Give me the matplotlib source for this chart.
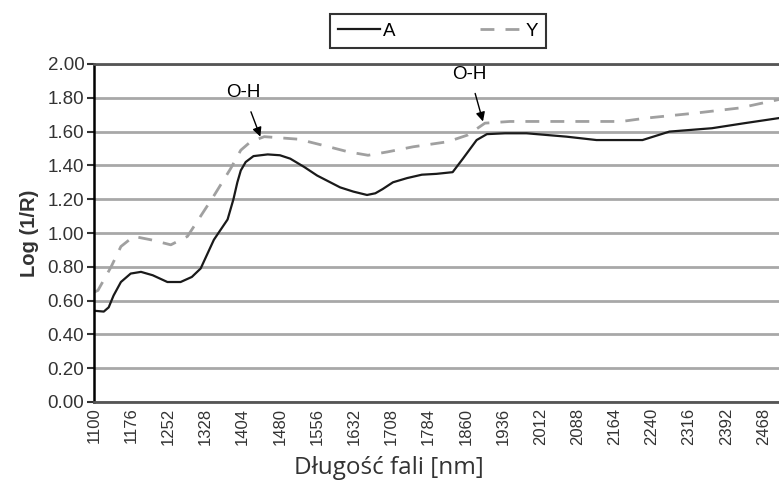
import numpy as np
import matplotlib
matplotlib.use('Agg')
import matplotlib.pyplot as plt

a_x = [1100, 1120, 1130, 1140, 1155, 1175, 1196, 1220, 1250, 1277, 1300, 1318, 1345, 1373, 1385, 1393,
       1400, 1410, 1426, 1455, 1480, 1501, 1530, 1556, 1603, 1630, 1658, 1675, 1690, 1711, 1740, 1770,
       1800, 1833, 1854, 1882, 1903, 1940, 1984, 2066, 2127, 2221, 2276, 2363, 2430, 2500]
a_y = [0.54, 0.535, 0.56, 0.63, 0.71, 0.76, 0.77, 0.75, 0.71, 0.71, 0.74, 0.79, 0.96, 1.08, 1.20, 1.30,
       1.37, 1.42, 1.455, 1.465, 1.46, 1.44, 1.39, 1.34, 1.27, 1.245, 1.225, 1.235, 1.26, 1.30, 1.325, 1.345,
       1.35, 1.36, 1.44, 1.55, 1.585, 1.59, 1.59, 1.57, 1.55, 1.55, 1.60, 1.62, 1.65, 1.68]

y_x = [1100, 1108, 1135, 1155, 1181, 1216, 1257, 1291, 1318, 1345, 1379, 1400, 1420, 1448, 1518, 1580,
       1620, 1660, 1700, 1752, 1823, 1864, 1899, 1950, 2025, 2178, 2229, 2331, 2420, 2500]
y_y = [0.65, 0.66, 0.80, 0.92, 0.98, 0.96, 0.93, 0.98, 1.10, 1.22, 1.38, 1.49, 1.54, 1.57, 1.555, 1.51,
       1.48, 1.46, 1.48, 1.51, 1.54, 1.58, 1.65, 1.66, 1.66, 1.66, 1.68, 1.71, 1.74, 1.79]

x_ticks = list(range(1100, 2469, 76))
y_ticks = [0.0, 0.2, 0.4, 0.6, 0.8, 1.0, 1.2, 1.4, 1.6, 1.8, 2.0]

plt.rcParams['font.family'] = ['Liberation Sans', 'DejaVu Sans']

fig = plt.figure(figsize=(7.79, 4.99), dpi=100)
ax = fig.add_axes([94/779, 1 - 402/499, 1 - 94/779, (402 - 64)/499])

for t in y_ticks:
    ax.axhline(t, color='#a8a8a8', lw=2, zorder=0)

ax.plot(a_x, a_y, color='#1a1a1a', lw=1.6, label='A')
ax.plot(y_x, y_y, color='#a0a0a0', lw=2, dashes=(5, 4), label='Y')

ax.set_xlim(1100, 2500)
ax.set_ylim(0, 2.0)
ax.set_xticks(x_ticks)
ax.set_xticklabels([str(v) for v in x_ticks], rotation=90, fontsize=12, color='#333333')
ax.set_yticks(y_ticks)
ax.set_yticklabels(['%.2f' % v for v in y_ticks], fontsize=13.5, color='#333333')
ax.tick_params(axis='x', length=0, pad=4)
ax.tick_params(axis='y', length=5, width=1.5, color='#333333', pad=2)

ax.spines['right'].set_visible(False)
ax.spines['top'].set_color('#555555')
ax.spines['top'].set_linewidth(2)
ax.spines['left'].set_linewidth(1.8)
ax.spines['bottom'].set_color('#555555')
ax.spines['bottom'].set_linewidth(2)

ax.set_ylabel('Log (1/R)', fontsize=14.5, fontweight='bold', color='#333333', labelpad=6)
fig.text(389/779, 1 - 468/499, 'Długość fali [nm]', fontsize=17.5, family='Open Sans',
         color='#333333', ha='center', va='center')

ax.annotate('O-H', xy=(1440, 1.57), xytext=(1406, 1.83), fontsize=13.5, ha='center', va='center',
            arrowprops=dict(arrowstyle='-|>', color='black', lw=1, shrinkA=6, shrinkB=0))
ax.annotate('O-H', xy=(1895, 1.66), xytext=(1868, 1.94), fontsize=13.5, ha='center', va='center',
            arrowprops=dict(arrowstyle='-|>', color='black', lw=1, shrinkA=6, shrinkB=0))

leg = ax.legend(loc='center', bbox_to_anchor=(438/779, 1 - 31/499), bbox_transform=fig.transFigure,
                ncol=2, fontsize=13.5, frameon=True, fancybox=False, edgecolor='black',
                handlelength=2.2, handletextpad=0.2, columnspacing=4.5, borderpad=0.45,
                borderaxespad=0)
leg.get_frame().set_linewidth(1.5)

fig.savefig('out.png', dpi=100)
